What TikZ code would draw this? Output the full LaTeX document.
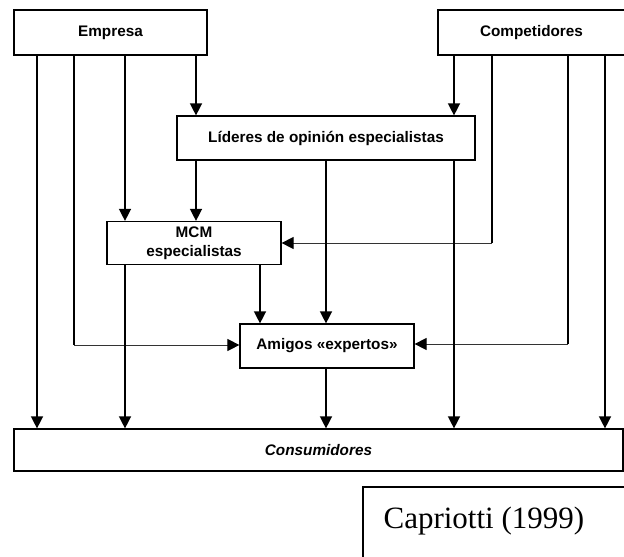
\documentclass[tikz,border=0pt]{standalone}
\usepackage{fontspec}
\setmainfont{Liberation Serif}
\newfontfamily\diagfont{Liberation Sans}
\usetikzlibrary{arrows.meta}

\begin{document}
\begin{tikzpicture}[x=1pt,y=-1pt,
  box/.style={draw, line width=1.2pt, inner sep=0pt,
    font=\diagfont\fontsize{15.3}{18}\selectfont\bfseries, align=center},
  tip/.style={-{Triangle[width=12pt,length=12pt,color=black]}},
  flow/.style={line width=1.4pt, tip},
  side/.style={line width=1pt, black!80, tip}]

\useasboundingbox (0,0) rectangle (624,557);

% boxes
\node[box, minimum width=193pt, minimum height=45pt] (emp) at (110.5,32.5) {Empresa};
\node[box, minimum width=187pt, minimum height=45pt] (comp) at (531.5,32.5) {Competidores};
\node[box, minimum width=298pt, minimum height=44pt] (lid) at (326,138) {Líderes de opinión especialistas};
\node[box, minimum width=174pt, minimum height=43pt] (mcm) at (194,243) {MCM\\[1pt]especialistas};
\node[box, minimum width=174pt, minimum height=44pt] (ami) at (327,346) {Amigos «expertos»};
\node[box, minimum width=609pt, minimum height=42pt,
  font=\diagfont\fontsize{15.3}{18}\selectfont\bfseries\itshape] (cons) at (318.5,450) {Consumidores};
\node[draw, line width=1.2pt, minimum width=262pt, minimum height=71pt,
  inner sep=0pt] (src) at (494,522.5) {};
\node[anchor=west, font=\fontsize{31}{33}\selectfont, inner sep=0pt] (srct)
  at ([xshift=21pt,yshift=1pt]src.west) {Capriotti (1999)};

% vertical columns
\coordinate (x1) at (37,0);
\coordinate (x2) at (74,0);
\coordinate (x3) at (125,0);
\coordinate (x4) at (196,0);
\coordinate (x5) at (260,0);
\coordinate (x6) at (326,0);
\coordinate (x7) at (454,0);
\coordinate (x8) at (492,0);
\coordinate (x9) at (568,0);
\coordinate (x10) at (605,0);

% Empresa
\draw[flow] (emp.south -| x1) -- (cons.north -| x1);
\draw[flow] (emp.south -| x3) -- (mcm.north -| x3);
\draw[flow] (emp.south -| x4) -- (lid.north -| x4);
\coordinate (k1) at (74,345);
\draw[line width=1.2pt] (emp.south -| x2) -- (k1);
\draw[side] (k1) -- (ami.west |- k1);

% Competidores
\draw[flow] (comp.south -| x7) -- (lid.north -| x7);
\draw[flow] (comp.south -| x10) -- (cons.north -| x10);
\coordinate (k2) at (492,243);
\draw[line width=1.2pt] (comp.south -| x8) -- (k2);
\draw[side] (k2) -- (mcm.east |- k2);
\coordinate (k3) at (568,344);
\draw[line width=1.2pt] (comp.south -| x9) -- (k3);
\draw[side] (k3) -- (ami.east |- k3);

% Lideres
\draw[flow] (lid.south -| x4) -- (mcm.north -| x4);
\draw[flow] (lid.south -| x6) -- (ami.north -| x6);
\draw[flow] (lid.south -| x7) -- (cons.north -| x7);

% MCM
\draw[flow] (mcm.south -| x3) -- (cons.north -| x3);
\draw[flow] (mcm.south -| x5) -- (ami.north -| x5);

% Amigos
\draw[flow] (ami.south -| x6) -- (cons.north -| x6);

\end{tikzpicture}
\end{document}
